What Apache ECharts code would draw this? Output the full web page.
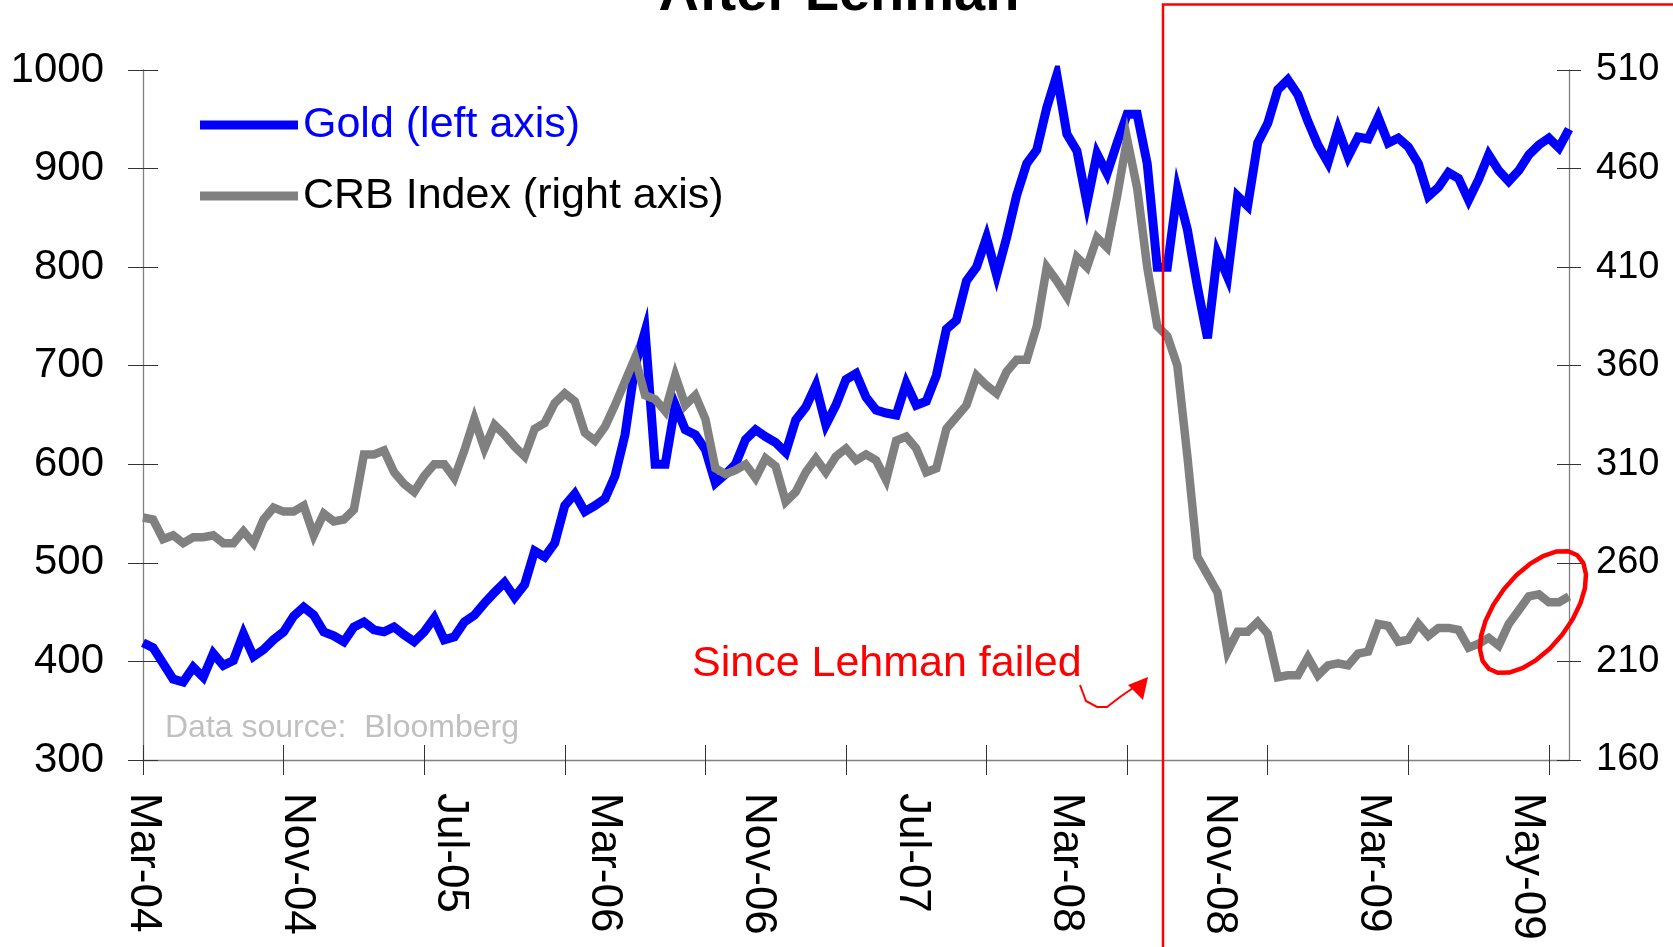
<!DOCTYPE html>
<html>
<head>
<meta charset="utf-8">
<title>After Lehman</title>
<script src="https://cdn.jsdelivr.net/npm/echarts@6/dist/echarts.min.js"></script>
<style>
  html, body { margin: 0; padding: 0; background: #fff; }
  #main { width: 1673px; height: 947px; }
</style>
</head>
<body>
<div id="main"></div>
<script>
// axis labels as printed under the chart
var dateLabels = ['Mar-04', 'Nov-04', 'Jul-05', 'Mar-06', 'Nov-06', 'Jul-07', 'Mar-08', 'Nov-08', 'Mar-09', 'May-09'];

// gold price, USD/oz (left axis) at evenly spaced points
var gold = [419, 414, 398, 382, 379, 394, 384, 408, 396, 401,
  428, 405, 412, 422, 430, 446, 455, 447, 430, 426,
  420, 435, 440, 432, 430, 435, 427, 420, 430, 444,
  422, 425, 440, 447, 459, 470, 480, 465, 478, 512,
  506, 520, 558, 570, 552, 558, 565, 588, 630, 700,
  735, 600, 600, 660, 635, 630, 615, 581, 590, 600,
  625, 635, 628, 622, 612, 645, 658, 680, 640, 660,
  686, 692, 668, 655, 652, 650, 682, 660, 664, 690,
  737, 746, 786, 800, 830, 792, 830, 873, 905, 919,
  962, 995, 935, 918, 865, 915, 895, 926, 955, 955,
  905, 800, 800, 878, 838, 780, 728, 814, 790, 872,
  862, 926, 946, 980, 990, 975, 948, 924, 906, 940,
  912, 932, 930, 952, 926, 931, 922, 905, 872, 881,
  896, 890, 868, 889, 914, 898, 887, 898, 914, 924,
  931, 921, 940];

// CRB index (right axis), same points
var crb = [283, 282, 272, 274, 270, 273, 273, 274, 270, 270,
  276, 270, 282, 288, 286, 286, 289, 274, 285, 281,
  282, 287, 315, 315, 317, 306, 300, 296, 304, 310,
  310, 303, 317, 333, 318, 330, 325, 319, 314, 328,
  331, 341, 346, 342, 326, 322, 329, 340, 352, 364,
  345, 343, 337, 355, 340, 345, 333, 308, 305, 307,
  310, 303, 313, 309, 291, 296, 306, 313, 306, 314,
  318, 312, 315, 312, 302, 322, 324, 318, 306, 308,
  328, 334, 340, 355, 350, 346, 357, 363, 363, 380,
  410, 403, 395, 415, 410, 425, 420, 446, 475, 450,
  410, 380, 375, 360, 314, 263, 254, 245, 215, 225,
  225, 230, 224, 202, 203, 203, 212, 203, 208, 209,
  208, 214, 215, 229, 228, 220, 221, 229, 223, 227,
  227, 226, 217, 219, 222, 218, 229, 236, 243, 244,
  240, 240, 243];

var FONT = '"Liberation Sans", Arial, sans-serif';
var AXIS_GRAY = '#808080';
var TICK = '#333333';

var pointIdx = gold.map(function (v, i) { return i; });

// hand drawn ring round the last few CRB weeks
function ellipsePoints(cx, cy, a, b, deg, n) {
  var r = deg * Math.PI / 180;
  var pts = [];
  for (var k = 0; k < n; k++) {
    var t = 2 * Math.PI * k / n;
    var ca = a * Math.cos(t), sb = b * Math.sin(t);
    pts.push([cx + ca * Math.cos(r) + sb * Math.sin(r), cy - ca * Math.sin(r) + sb * Math.cos(r)]);
  }
  return pts;
}

var chart = echarts.init(document.getElementById('main'));

var option = {
  backgroundColor: '#ffffff',
  animation: false,
  textStyle: { fontFamily: FONT },
  grid: { left: 143, right: 104, top: 70, bottom: 187, containLabel: false, outerBoundsMode: 'none' },
  legend: {
    orient: 'vertical',
    left: 195,
    top: 95,
    itemWidth: 98,
    itemHeight: 9,
    itemGap: 21,
    selectedMode: false,
    textStyle: { fontFamily: FONT, fontSize: 43, lineHeight: 50, color: '#000' },
    data: [
      { name: 'Gold (left axis)', icon: 'rect', textStyle: { color: '#0000ff' } },
      { name: 'CRB Index (right axis)', icon: 'rect' }
    ]
  },
  xAxis: [
    {
      type: 'category', data: pointIdx, boundaryGap: false, position: 'bottom',
      axisLine: { lineStyle: { color: AXIS_GRAY, width: 1.3 } },
      axisTick: { interval: 13, length: 15, lineStyle: { color: TICK } },
      axisLabel: { show: false },
      splitLine: { show: false }
    },
    {
      type: 'category', data: pointIdx, boundaryGap: false, position: 'bottom',
      axisLine: { show: false },
      axisTick: { interval: 13, inside: true, length: 15, lineStyle: { color: TICK } },
      axisLabel: { show: false },
      splitLine: { show: false }
    },
    {
      type: 'value', position: 'bottom', min: 0, max: 9.272, interval: 1,
      axisLine: { show: false },
      axisTick: { show: false },
      splitLine: { show: false },
      axisLabel: {
        rotate: -90, margin: 33, fontSize: 44, color: '#000', fontFamily: FONT,
        padding: [14, 0, 0, 0],
        formatter: function (v) { return dateLabels[v] || ''; }
      }
    }
  ],
  yAxis: [
    {
      type: 'value', position: 'left', min: 300, max: 1000, interval: 100,
      axisLine: { show: true, lineStyle: { color: AXIS_GRAY, width: 1.3 } },
      axisTick: { show: true, length: 15, lineStyle: { color: TICK } },
      axisLabel: {
        margin: 39, fontSize: 42, color: '#000', fontFamily: FONT,
        formatter: function (v) { return String(v); }
      },
      splitLine: { show: false }
    },
    {
      type: 'value', position: 'left', min: 300, max: 1000, interval: 100,
      axisLine: { show: false },
      axisTick: { show: true, inside: true, length: 15, lineStyle: { color: TICK } },
      axisLabel: { show: false },
      splitLine: { show: false }
    },
    {
      type: 'value', position: 'right', min: 160, max: 510, interval: 50,
      axisLine: { show: true, lineStyle: { color: AXIS_GRAY, width: 1.3 } },
      axisTick: { show: true, length: 12, lineStyle: { color: TICK } },
      axisLabel: { margin: 27, fontSize: 38, color: '#000', fontFamily: FONT },
      splitLine: { show: false }
    },
    {
      type: 'value', position: 'right', min: 160, max: 510, interval: 50,
      axisLine: { show: false },
      axisTick: { show: true, inside: true, length: 12, lineStyle: { color: TICK } },
      axisLabel: { show: false },
      splitLine: { show: false }
    }
  ],
  series: [
    {
      name: 'Gold (left axis)', type: 'line', xAxisIndex: 0, yAxisIndex: 0,
      data: gold, symbol: 'none', color: '#0000ff',
      lineStyle: { width: 9, color: '#0000ff', join: 'miter', miterLimit: 6 }
    },
    {
      name: 'CRB Index (right axis)', type: 'line', xAxisIndex: 0, yAxisIndex: 2,
      data: crb, symbol: 'none', color: '#808080',
      lineStyle: { width: 8.5, color: '#808080', join: 'miter', miterLimit: 6 }
    }
  ],
  graphic: [
    {
      type: 'text', x: 839, y: -5, z: 50,
      style: { text: 'After Lehman', font: 'bold 56px ' + FONT, fill: '#000', align: 'center', verticalAlign: 'middle' }
    },
    {
      type: 'text', x: 165, y: 728, z: 50,
      style: { text: 'Data source:  Bloomberg', font: '32px ' + FONT, fill: '#c0c0c0', align: 'left', verticalAlign: 'middle' }
    },
    {
      type: 'text', x: 692, y: 664, z: 50,
      style: { text: 'Since Lehman failed', font: '43px ' + FONT, fill: '#ff0000', align: 'left', verticalAlign: 'middle' }
    },
    {
      type: 'rect', z: 60,
      shape: { x: 1163, y: 4.5, width: 700, height: 1100 },
      style: { fill: 'none', stroke: '#ff0000', lineWidth: 2.5 }
    },
    {
      type: 'polyline', z: 60,
      shape: { points: [[1080, 685], [1086, 701], [1097, 707], [1107, 707], [1120, 697], [1133, 688]] },
      style: { fill: 'none', stroke: '#ff0000', lineWidth: 2 }
    },
    {
      type: 'polygon', z: 60,
      shape: { points: [[1148, 677], [1128, 685], [1143, 700]] },
      style: { fill: '#ff0000' }
    },
    {
      type: 'polygon', z: 60,
      shape: { points: ellipsePoints(1533, 612, 72, 37, 52, 24) },
      style: { fill: 'none', stroke: '#ff0000', lineWidth: 4.5, lineJoin: 'round' }
    }
  ]
};

chart.setOption(option);
</script>
</body>
</html>
